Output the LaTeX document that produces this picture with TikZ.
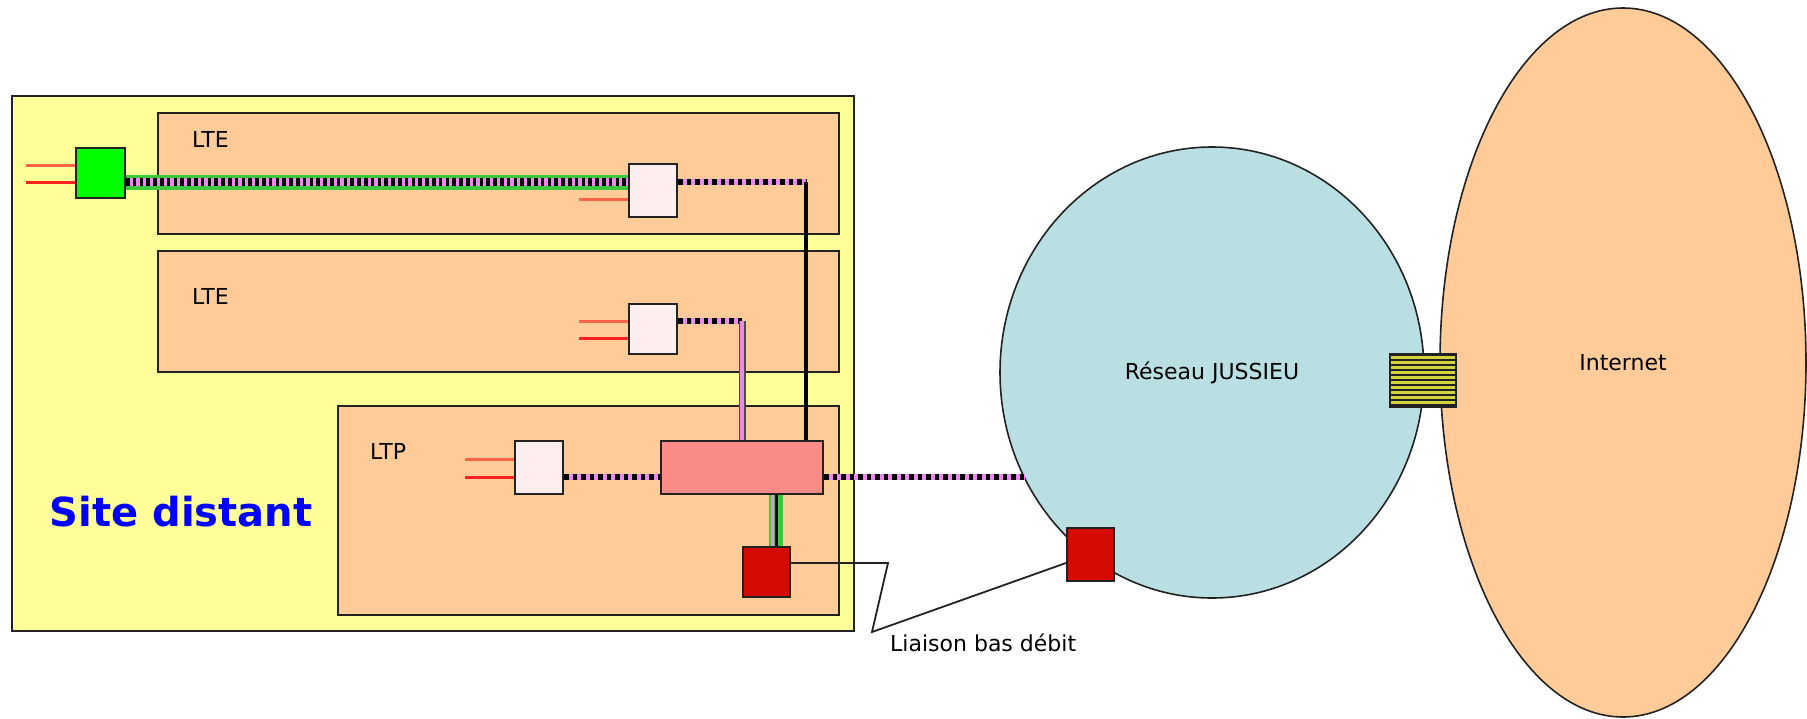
\documentclass[tikz,border=0pt]{standalone}
\usepackage{fontspec}
\setmainfont{DejaVu Sans}
\usetikzlibrary{shapes.geometric}
\definecolor{SiteYellow}{HTML}{FFFF99}
\definecolor{Peach}{HTML}{FFCC99}
\definecolor{Lagoon}{HTML}{B9DFE2}
\definecolor{PortWhite}{HTML}{FFEEEE}
\definecolor{Salmon}{HTML}{FA8B86}
\definecolor{BoxRed}{HTML}{D50A00}
\definecolor{Bright}{HTML}{00FF00}
\definecolor{Cable}{HTML}{3CC83C}
\definecolor{Violet}{HTML}{EE88EE}
\definecolor{Stripe}{HTML}{D2D23C}
\definecolor{StubA}{HTML}{FF6347}
\definecolor{StubB}{HTML}{FF2020}
\definecolor{Edge}{HTML}{222222}

\begin{document}
\begin{tikzpicture}[x=1pt,y=-1pt,
  txt/.style={font=\fontsize{22}{26}\selectfont,text=black},
  area/.style={rectangle,draw=Edge,line width=2pt,inner sep=0pt},
  site/.style={area,fill=SiteYellow},
  room/.style={area,fill=Peach},
  port/.style={area,fill=PortWhite,minimum width=48pt},
  cloud/.style={ellipse,draw=Edge,line width=1.6pt,inner sep=0pt,txt},
  stub/.style={line width=3pt},
  dotline/.style={draw=Violet,line width=6pt,postaction={draw=black,line width=6pt,dash pattern=on 4.5pt off 4pt}},
  bundle/.style={draw=Cable,line width=15pt,postaction={draw=Violet,line width=8pt,postaction={draw=black,line width=8pt,dash pattern=on 3.6pt off 3.2pt}}},
  blackline/.style={draw=black,line width=4.5pt},
  pinkline/.style={draw=black!70,line width=7pt,postaction={draw=Violet,line width=4.4pt}},
  lowlink/.style={draw=Edge,line width=1.8pt}
]
\useasboundingbox (0,0) rectangle (1807,718);
\node[site,minimum width=842pt,minimum height=535pt] (site) at (433,363.5) {};
\node[room,minimum width=681pt,minimum height=121pt] (lte1) at (498.5,173.5) {};
\node[room,minimum width=681pt,minimum height=121pt] (lte2) at (498.5,311.5) {};
\node[room,minimum width=501pt,minimum height=209pt] (ltp) at (588.5,510.5) {};
\node[txt,anchor=west,inner sep=0pt] (lte1lbl) at (192,139) {LTE};
\node[txt,anchor=west,inner sep=0pt] (lte2lbl) at (192,296) {LTE};
\node[txt,anchor=west,inner sep=0pt] (ltplbl) at (370,451) {LTP};
\node[font=\fontsize{40}{46}\selectfont\bfseries,text=blue] (sitelbl) at (181,512) {Site distant};
\node[area,fill=Bright,minimum width=49pt,minimum height=50pt] (green) at (100.5,173) {};
\node[port,minimum height=53pt] (white1) at (653,190.5) {};
\node[port,minimum height=50pt] (white2) at (653,329) {};
\node[port,minimum height=53pt] (white3) at (539,467.5) {};
\node[area,fill=Salmon,minimum width=162pt,minimum height=53pt] (sw) at (742,467.5) {};
\node[area,fill=BoxRed,minimum width=47pt,minimum height=50pt] (red1) at (766.5,572) {};
\node[cloud,fill=Lagoon,minimum width=424pt,minimum height=451pt] (jussieu) at (1212,372.5) {Réseau JUSSIEU};
\node[cloud,fill=Peach,minimum width=366pt,minimum height=709pt] (internet) at (1623,362.5) {Internet};
\node[area,fill=BoxRed,minimum width=47pt,minimum height=53pt] (red2) at (1090.5,554.5) {};
\node[area,fill=Stripe,minimum width=66pt,minimum height=53pt,
  path picture={\foreach \k in {0,...,10}
    \draw[line width=2.2pt] ([yshift=-\k*5pt-1pt]path picture bounding box.north west) -- ([yshift=-\k*5pt-1pt]path picture bounding box.north east);}] (gw) at (1423,380.5) {};
\node[txt,anchor=west,inner sep=0pt] (lowlbl) at (890,643) {Liaison bas débit};
\coordinate (c1) at (806,182);
\coordinate (c2) at (742,321);
\coordinate (k1) at (888,563);
\coordinate (k2) at (872,632);
\coordinate (swout) at ([yshift=-9.5pt]sw.east);
\foreach \n/\s/\c in {green/8/StubA,green/-9/StubB,white1/-8.5/StubA,white2/8/StubA,white2/-9/StubB,white3/8.5/StubA,white3/-9.5/StubB} {
  \draw[stub,draw=\c] ([yshift=\s pt]\n.west) -- ++(-49,0);
}
\draw[bundle] ([yshift=-9pt]green.east) -- ([yshift=8.5pt]white1.west);
\draw[dotline] ([yshift=8.5pt]white1.east) -- (c1);
\draw[blackline] (c1) -- (c1 |- sw.north);
\draw[dotline] ([yshift=8pt]white2.east) -- (c2);
\draw[pinkline] (c2) -- (sw.north);
\draw[dotline] ([yshift=-9.5pt]white3.east) -- ([yshift=-9.5pt]sw.west);
\draw[dotline] (swout) -- (swout -| jussieu.210);
\draw[draw=Cable,line width=14pt] ([xshift=34pt]sw.south) -- ([xshift=9.5pt]red1.north);
\draw[draw=Violet,line width=3.5pt] ([xshift=30.5pt]sw.south) -- ([xshift=6pt]red1.north);
\draw[draw=black,line width=3.5pt] ([xshift=34.5pt]sw.south) -- ([xshift=10pt]red1.north);
\draw[lowlink] ([yshift=9pt]red1.east) -- (k1) -- (k2) -- ([yshift=-8.5pt]red2.west);
\end{tikzpicture}
\end{document}
